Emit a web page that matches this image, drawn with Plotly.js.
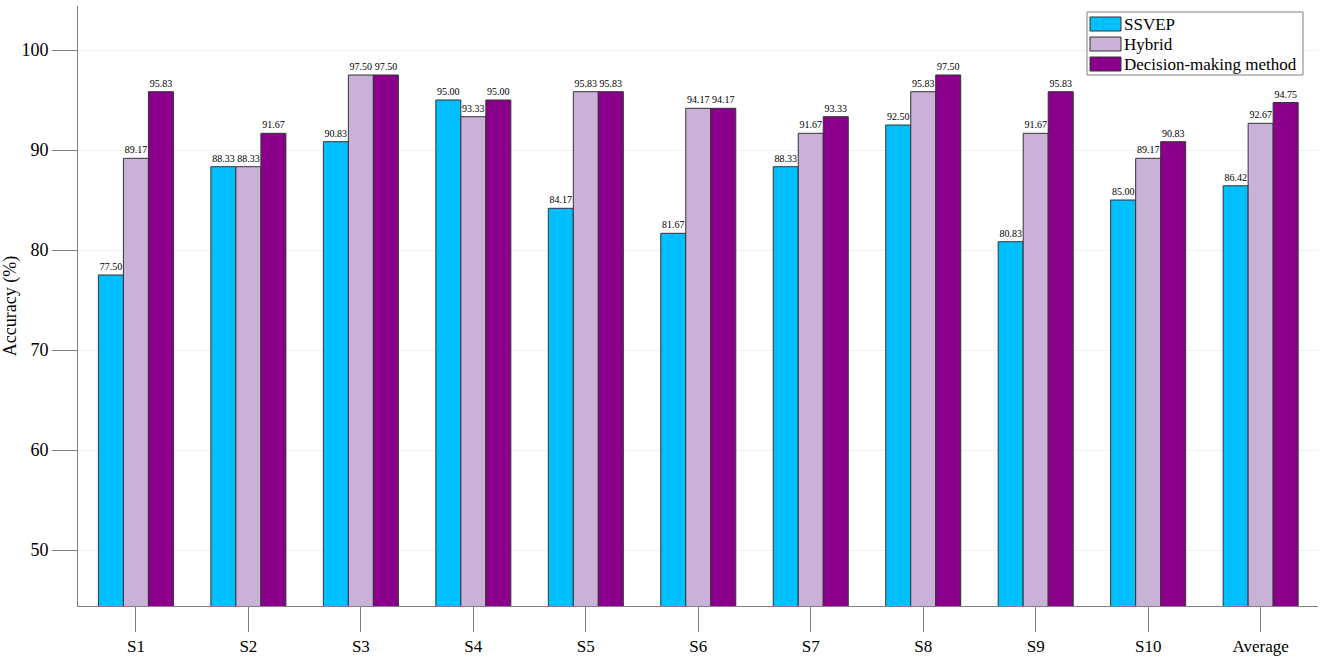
<!DOCTYPE html>
<html>
<head>
<meta charset="utf-8">
<script src="https://cdn.plot.ly/plotly-3.0.1.min.js"></script>
<style>
  html, body { margin: 0; padding: 0; background: #fff; }
  #chart { width: 1325px; height: 661px; }
</style>
</head>
<body>
<div id="chart"></div>
<script>
// data
const subjects = ['S1', 'S2', 'S3', 'S4', 'S5', 'S6', 'S7', 'S8', 'S9', 'S10', 'Average'];
const ssvep    = [77.50, 88.33, 90.83, 95.00, 84.17, 81.67, 88.33, 92.50, 80.83, 85.00, 86.42];
const hybrid   = [89.17, 88.33, 97.50, 93.33, 95.83, 94.17, 91.67, 95.83, 91.67, 89.17, 92.67];
const decision = [95.83, 91.67, 97.50, 95.00, 95.83, 94.17, 93.33, 97.50, 95.83, 90.83, 94.75];

const seriesNames  = ['SSVEP', 'Hybrid', 'Decision-making method'];
const seriesColors = ['#00BFFF', '#C9B1D7', '#8B008B'];

const serif = '"Liberation Serif", "Times New Roman", serif';

// plot area in pixels (used to place the hand-drawn legend box)
const W = 1325, H = 661;
const M = { l: 78, r: 7, t: 6, b: 55 };
const plotW = W - M.l - M.r, plotH = H - M.t - M.b;
const px = x => (x - M.l) / plotW;
const py = y => (H - M.b - y) / plotH;

function makeTrace(name, values, color) {
    return {
        type: 'bar',
        name: name,
        x: subjects,
        y: values,
        marker: { color: color, line: { color: '#333333', width: 1 } },
        texttemplate: '%{y:.2f}',
        textposition: 'outside',
        textfont: { family: serif, size: 10, color: '#000' },
        cliponaxis: false,
        hoverinfo: 'name+y'
    };
}

const traces = [
    makeTrace(seriesNames[0], ssvep, seriesColors[0]),
    makeTrace(seriesNames[1], hybrid, seriesColors[1]),
    makeTrace(seriesNames[2], decision, seriesColors[2])
];

// legend drawn as shapes + annotations so it keeps the compact MATLAB look
const shapes = [{
    type: 'rect', xref: 'paper', yref: 'paper',
    x0: px(1087), x1: px(1303), y0: py(75), y1: py(12),
    fillcolor: '#fff', line: { color: '#808080', width: 1 }, layer: 'above'
}];
const annotations = [];
seriesNames.forEach((name, i) => {
    const cy = 24 + i * 20;
    shapes.push({
        type: 'rect', xref: 'paper', yref: 'paper',
        x0: px(1090), x1: px(1121), y0: py(cy + 7), y1: py(cy - 7),
        fillcolor: seriesColors[i], line: { color: '#333333', width: 1 }, layer: 'above'
    });
    annotations.push({
        xref: 'paper', yref: 'paper', x: px(1122), y: py(cy),
        xanchor: 'left', yanchor: 'middle', showarrow: false,
        text: name, font: { family: serif, size: 17, color: '#000' }
    });
});

const layout = {
    width: W,
    height: H,
    margin: M,
    paper_bgcolor: '#fff',
    plot_bgcolor: '#fff',
    font: { family: serif, size: 17, color: '#000' },
    barmode: 'group',
    bargap: 0.333,
    bargroupgap: 0,
    showlegend: false,
    shapes: shapes,
    annotations: annotations,
    xaxis: {
        type: 'category',
        range: [-0.515, 10.51],
        showline: true, linecolor: '#808080', linewidth: 1,
        ticks: 'outside', ticklen: 25, tickcolor: '#808080', tickwidth: 1,
        showgrid: false, zeroline: false,
        tickfont: { family: serif, size: 17 }
    },
    yaxis: {
        range: [44.4, 104.4],
        tickvals: [50, 60, 70, 80, 90, 100],
        showline: true, linecolor: '#808080', linewidth: 1,
        ticks: 'outside', ticklen: 25, tickcolor: '#808080', tickwidth: 1,
        showgrid: true, gridcolor: '#f0f0f0', gridwidth: 1,
        zeroline: false,
        tickfont: { family: serif, size: 18 },
        title: { text: 'Accuracy (%)', font: { family: serif, size: 18 }, standoff: 2 }
    }
};

Plotly.newPlot('chart', traces, layout, { displayModeBar: false, responsive: false });
</script>
</body>
</html>
